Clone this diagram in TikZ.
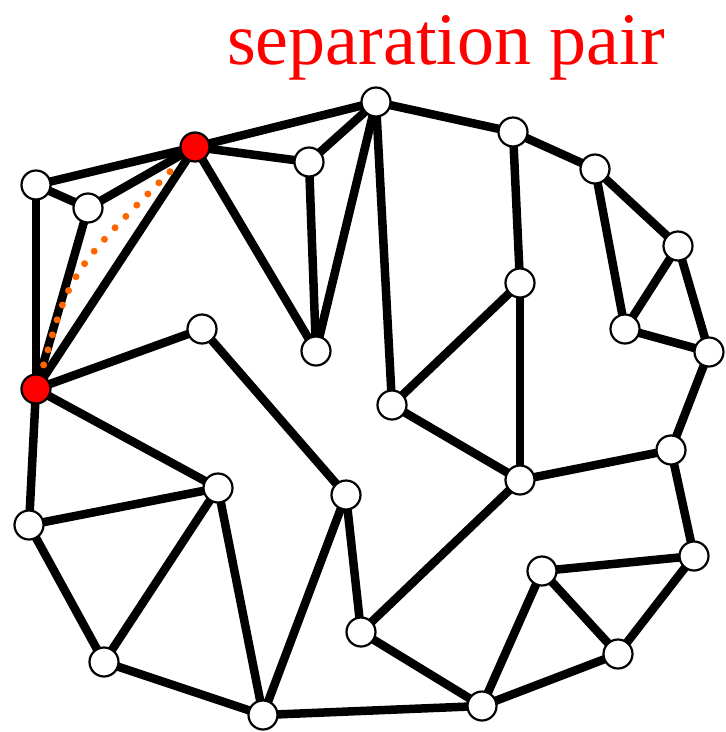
\documentclass[tikz,border=0pt]{standalone}
\usepackage{fontspec}
\setmainfont{Liberation Serif}
\begin{document}
\begin{tikzpicture}[x=1pt,y=-1pt,
  vtx/.style={circle,draw=black,line width=2.2pt,fill=white,minimum size=29pt,inner sep=0pt},
  sep/.style={vtx,fill=red},
  edge/.style={line width=8.5pt,black},
  orangedots/.style={line width=7pt,color={rgb,255:red,255;green,102;blue,0},line cap=round,dash pattern=on 0pt off 15.7pt}]
\useasboundingbox (0,0) rectangle (726,732);
\node[anchor=base,text=red,font=\fontsize{74}{80}\selectfont,inner sep=0pt] (title) at (446,64) {separation pair};
% coordinates
\coordinate (pA) at (195,147);
\coordinate (pB) at (36,389);
\coordinate (pC) at (36,185);
\coordinate (pD) at (88,208);
\coordinate (pE) at (376,102);
\coordinate (pF) at (309,162);
\coordinate (pG) at (513,132);
\coordinate (pH) at (595,169);
\coordinate (pI) at (678,246);
\coordinate (pJ) at (625,329);
\coordinate (pK) at (709,352);
\coordinate (pL) at (520,283);
\coordinate (pM) at (202,329);
\coordinate (pN) at (316,351);
\coordinate (pO) at (392,405);
\coordinate (pP) at (671,450);
\coordinate (pQ) at (520,480);
\coordinate (pR) at (218,488);
\coordinate (pS) at (346,495);
\coordinate (pT) at (29,525);
\coordinate (pU) at (694,556);
\coordinate (pV) at (542,571);
\coordinate (pW) at (361,632);
\coordinate (pX) at (618,654);
\coordinate (pY) at (104,662);
\coordinate (pZ) at (263,715);
\coordinate (pAA) at (482,706);
\coordinate (o1) at (170,171.7);
\coordinate (oc) at (70,272);
\coordinate (o2) at (41.7,371.7);
% edges
\foreach \a/\b in {C/A,C/D,C/B,D/A,D/B,A/B,A/E,A/F,A/N,F/E,F/N,E/N,E/O,E/G,G/L,G/H,H/I,H/J,I/J,I/K,J/K,K/P,P/Q,P/U,L/O,L/Q,O/Q,Q/W,U/V,U/X,V/X,V/AA,X/AA,AA/W,AA/Z,W/S,S/M,S/Z,M/B,B/R,B/T,T/R,T/Y,Y/R,R/Z,Y/Z}
  \draw[edge] (p\a) -- (p\b);
\draw[orangedots] (o1) .. controls (oc) .. (o2);
% vertices
\foreach \n in {C,D,E,F,G,H,I,J,K,L,M,N,O,P,Q,R,S,T,U,V,W,X,Y,Z,AA}
  \node[vtx] (\n) at (p\n) {};
\node[sep] (A) at (pA) {};
\node[sep] (B) at (pB) {};
\end{tikzpicture}
\end{document}
